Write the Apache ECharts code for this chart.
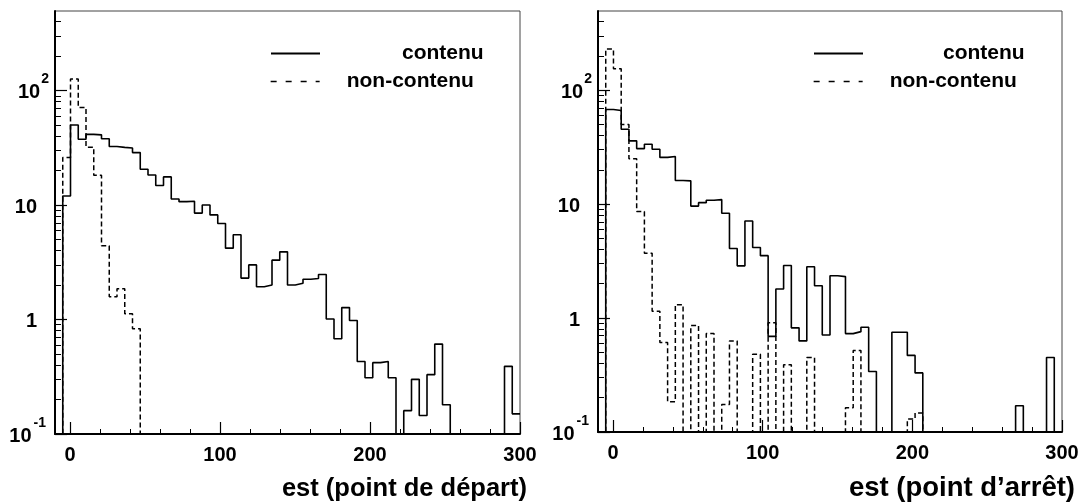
<!DOCTYPE html>
<html><head><meta charset="utf-8">
<script src="https://cdn.jsdelivr.net/npm/echarts@6/dist/echarts.min.js"></script>
<style>html,body{margin:0;padding:0;background:#fff}#c{width:1082px;height:502px}</style>
</head><body><div id="c"></div>
<script>
// Histogram definition: 60 bins from -10 to 300
const xMin = -10, xMax = 300, nBins = 60;
const yMin = 0.1, yMax = 495;

// Left panel: est (point de départ)
const departContenu = [0, 12.0, 50, 37.5, 41.4, 41, 37.9, 32.4, 31.9, 31.5,
  28.7, 20.5, 18.3, 14.8, 17.6, 11.3, 10.7, 10.8, 8.5, 10.0,
  8.2, 6.9, 4.2, 5.5, 2.3, 3.0, 1.93, 2.0, 3.3, 3.9,
  2.0, 2.07, 2.25, 2.28, 2.47, 1.01, 0.68, 1.27, 0.98, 0.43,
  0.31, 0.42, 0.43, 0.31, 0, 0.16, 0.30, 0.145, 0.33, 0.61,
  0.18, 0, 0, 0, 0, 0, 0, 0, 0.39, 0.15];
const departNonContenu = [0, 26, 126, 71, 32, 18.2, 4.4, 1.58, 1.86, 1.12,
  0.83, 0, 0, 0, 0, 0, 0, 0, 0, 0,
  0, 0, 0, 0, 0, 0, 0, 0, 0, 0,
  0, 0, 0, 0, 0, 0, 0, 0, 0, 0,
  0, 0, 0, 0, 0, 0, 0, 0, 0, 0,
  0, 0, 0, 0, 0, 0, 0, 0, 0, 0];

// Right panel: est (point d'arrêt)
const arretContenu = [0, 67.6, 66.2, 45.4, 35.9, 30.7, 33.5, 30.3, 25.7, 26.2,
  16.1, 16.0, 9.6, 10.3, 10.8, 10.95, 8.3, 4.08, 2.87, 7.1,
  4.16, 3.53, 0.69, 1.80, 2.89, 0.82, 0.63, 2.82, 1.92, 0.71,
  2.35, 2.31, 0.73, 0.76, 0.83, 0.34, 0, 0, 0.75, 0.75,
  0.47, 0.33, 0, 0, 0, 0, 0, 0, 0, 0,
  0, 0, 0, 0, 0.17, 0, 0, 0, 0.45, 0];
const arretNonContenu = [0, 230, 154, 50, 25, 8.6, 3.7, 1.15, 0.61, 0.184,
  1.31, 0, 0.86, 0, 0.73, 0, 0.174, 0.63, 0, 0,
  0.48, 0, 0.91, 0, 0.39, 0, 0, 0.45, 0, 0,
  0, 0, 0.163, 0.52, 0, 0, 0, 0, 0, 0,
  0.13, 0.147, 0, 0, 0, 0, 0, 0, 0, 0,
  0, 0, 0, 0, 0, 0, 0, 0, 0, 0];

const seriesNames = ['contenu', 'non-contenu'];
const axisTitles = ['est (point de départ)', 'est (point d\u2019arrêt)'];

const xMajorTicks = [0, 100, 200, 300];
const xMinorTicks = [20, 40, 60, 80, 120, 140, 160, 180, 220, 240, 260, 280];
const yMajorTicks = [0.1, 1, 10, 100];
const yMinorTicks = [0.2, 0.3, 0.4, 0.5, 0.6, 0.7, 0.8, 0.9,
  2, 3, 4, 5, 6, 7, 8, 9, 20, 30, 40, 50, 60, 70, 80, 90, 200, 300, 400];

const FONT = 'Liberation Sans, Arial, Helvetica, sans-serif';
const lg = v => Math.round(Math.log10(v) * 1e9) / 1e9;

function histPoints(vals) {
  const w = (xMax - xMin) / nBins;
  const pts = [];
  for (let i = 0; i < vals.length; i++) {
    pts.push([xMin + i * w, vals[i] > 0 ? vals[i] : yMin]);
  }
  pts.push([xMax, vals[vals.length - 1] > 0 ? vals[vals.length - 1] : yMin]);
  return pts;
}

// label for decade exponent e
function yLabel(e) {
  e = Math.round(e);
  if (e === 0) return '{b|1}{sp| }';
  if (e === 1) return '{b|10}{sp| }';
  if (e < 0) return '{b|10}{supn|' + e + '}';
  return '{b|10}{sup|' + e + '}';
}

const grids = [
  {left: 55, top: 11, width: 465, height: 426},
  {left: 598, top: 11, width: 464, height: 426}
];

const xAxes = [], yAxes = [], series = [], legends = [];
const panels = [[departContenu, departNonContenu], [arretContenu, arretNonContenu]];
const legendPos = [
  {line: 270, c: 402, nc: 347},
  {line: 813, c: 943, nc: 890}
];
const nameGaps = [7, 13];
const titleSizes = [25.5, 27.5];

panels.forEach((p, g) => {
  // main x axis (labels + major ticks) - used by series
  xAxes.push({
    type: 'value', gridIndex: g, min: xMin, max: xMax, position: 'bottom',
    axisLine: {show: true, onZero: false, lineStyle: {color: '#000', width: 2}},
    splitLine: {show: false},
    axisTick: {show: true, inside: true, length: 12, customValues: xMajorTicks, lineStyle: {color: '#000', width: 1.2}},
    axisLabel: {customValues: xMajorTicks, margin: 11, color: '#000', fontSize: 20, fontWeight: 'bold', fontFamily: FONT},
    name: axisTitles[g], nameLocation: 'end', nameGap: nameGaps[g],
    nameTextStyle: {align: 'right', verticalAlign: 'top', padding: [42, 0, 0, 0], color: '#000', fontSize: titleSizes[g], fontWeight: 'bold', fontFamily: FONT}
  });
  // minor x ticks
  xAxes.push({
    type: 'value', gridIndex: g, min: xMin, max: xMax, position: 'bottom',
    axisLine: {show: false, onZero: false}, splitLine: {show: false}, axisLabel: {show: false},
    axisTick: {show: true, inside: true, length: 5, customValues: xMinorTicks, lineStyle: {color: '#000', width: 1}}
  });
  // log axis carrying the series (no visuals)
  yAxes.push({
    type: 'log', logBase: 10, gridIndex: g, min: yMin, max: yMax, position: 'left',
    axisLine: {show: false, onZero: false}, splitLine: {show: false}, axisLabel: {show: false}, axisTick: {show: false}
  });
  // decade axis (log10 of values) for major ticks and labels
  yAxes.push({
    type: 'value', gridIndex: g, min: lg(yMin), max: lg(yMax), position: 'left',
    axisLine: {show: true, onZero: false, lineStyle: {color: '#000', width: 2}},
    splitLine: {show: false},
    axisTick: {show: true, inside: true, length: 12, customValues: yMajorTicks.map(lg), lineStyle: {color: '#000', width: 1.2}},
    axisLabel: {
      customValues: yMajorTicks.map(lg), margin: 6, formatter: yLabel, color: '#000',
      rich: {
        b: {fontSize: 20, fontWeight: 'bold', fontFamily: FONT, color: '#000', lineHeight: 36, padding: [4, 0, 0, 0]},
        sup: {fontSize: 14, fontWeight: 'bold', fontFamily: FONT, color: '#000', lineHeight: 14, padding: [0, 0, 22, 1]},
        supn: {fontSize: 14, fontWeight: 'bold', fontFamily: FONT, color: '#000', lineHeight: 14, padding: [0, 3, 22, 2]},
        sp: {width: 12, fontSize: 14, lineHeight: 14}
      }
    }
  });
  // minor y ticks
  yAxes.push({
    type: 'value', gridIndex: g, min: lg(yMin), max: lg(yMax), position: 'left',
    axisLine: {show: false, onZero: false}, splitLine: {show: false}, axisLabel: {show: false},
    axisTick: {show: true, inside: true, length: 6, customValues: yMinorTicks.map(lg), lineStyle: {color: '#000', width: 1}}
  });
  series.push({
    name: seriesNames[0], type: 'line', step: 'end', xAxisIndex: 2 * g, yAxisIndex: 3 * g,
    data: histPoints(p[0]), symbol: 'none', lineStyle: {color: '#000', width: 1.6}, itemStyle: {color: '#000'}
  });
  series.push({
    name: seriesNames[1], type: 'line', step: 'end', xAxisIndex: 2 * g, yAxisIndex: 3 * g,
    data: histPoints(p[1]), symbol: 'none', lineStyle: {color: '#000', width: 1.5, type: [5, 3]}, itemStyle: {color: '#000'}
  });
  const lp = legendPos[g];
  legends.push({
    data: [seriesNames[0]], left: lp.line, top: 43, padding: 0, itemWidth: 49, itemHeight: 22,
    selectedMode: false, itemStyle: {opacity: 0},
    textStyle: {fontSize: 21, fontWeight: 'bold', fontFamily: FONT, color: '#000', padding: [0, 0, 0, lp.c - lp.line - 49 - 6]}
  });
  legends.push({
    data: [seriesNames[1]], left: lp.line, top: 71, padding: 0, itemWidth: 49, itemHeight: 22,
    selectedMode: false, itemStyle: {opacity: 0}, lineStyle: {type: [6, 9], width: 1.3},
    textStyle: {fontSize: 21, fontWeight: 'bold', fontFamily: FONT, color: '#000', padding: [0, 0, 0, lp.nc - lp.line - 49 - 6]}
  });
});

const chart = echarts.init(document.getElementById('c'), null, {renderer: 'canvas'});
chart.setOption({
  animation: false,
  backgroundColor: '#fff',
  grid: grids.map(g => Object.assign({show: true, borderColor: '#444', borderWidth: 1, backgroundColor: 'transparent', containLabel: false}, g)),
  xAxis: xAxes,
  yAxis: yAxes,
  legend: legends,
  series: series
});
</script>
</body></html>
